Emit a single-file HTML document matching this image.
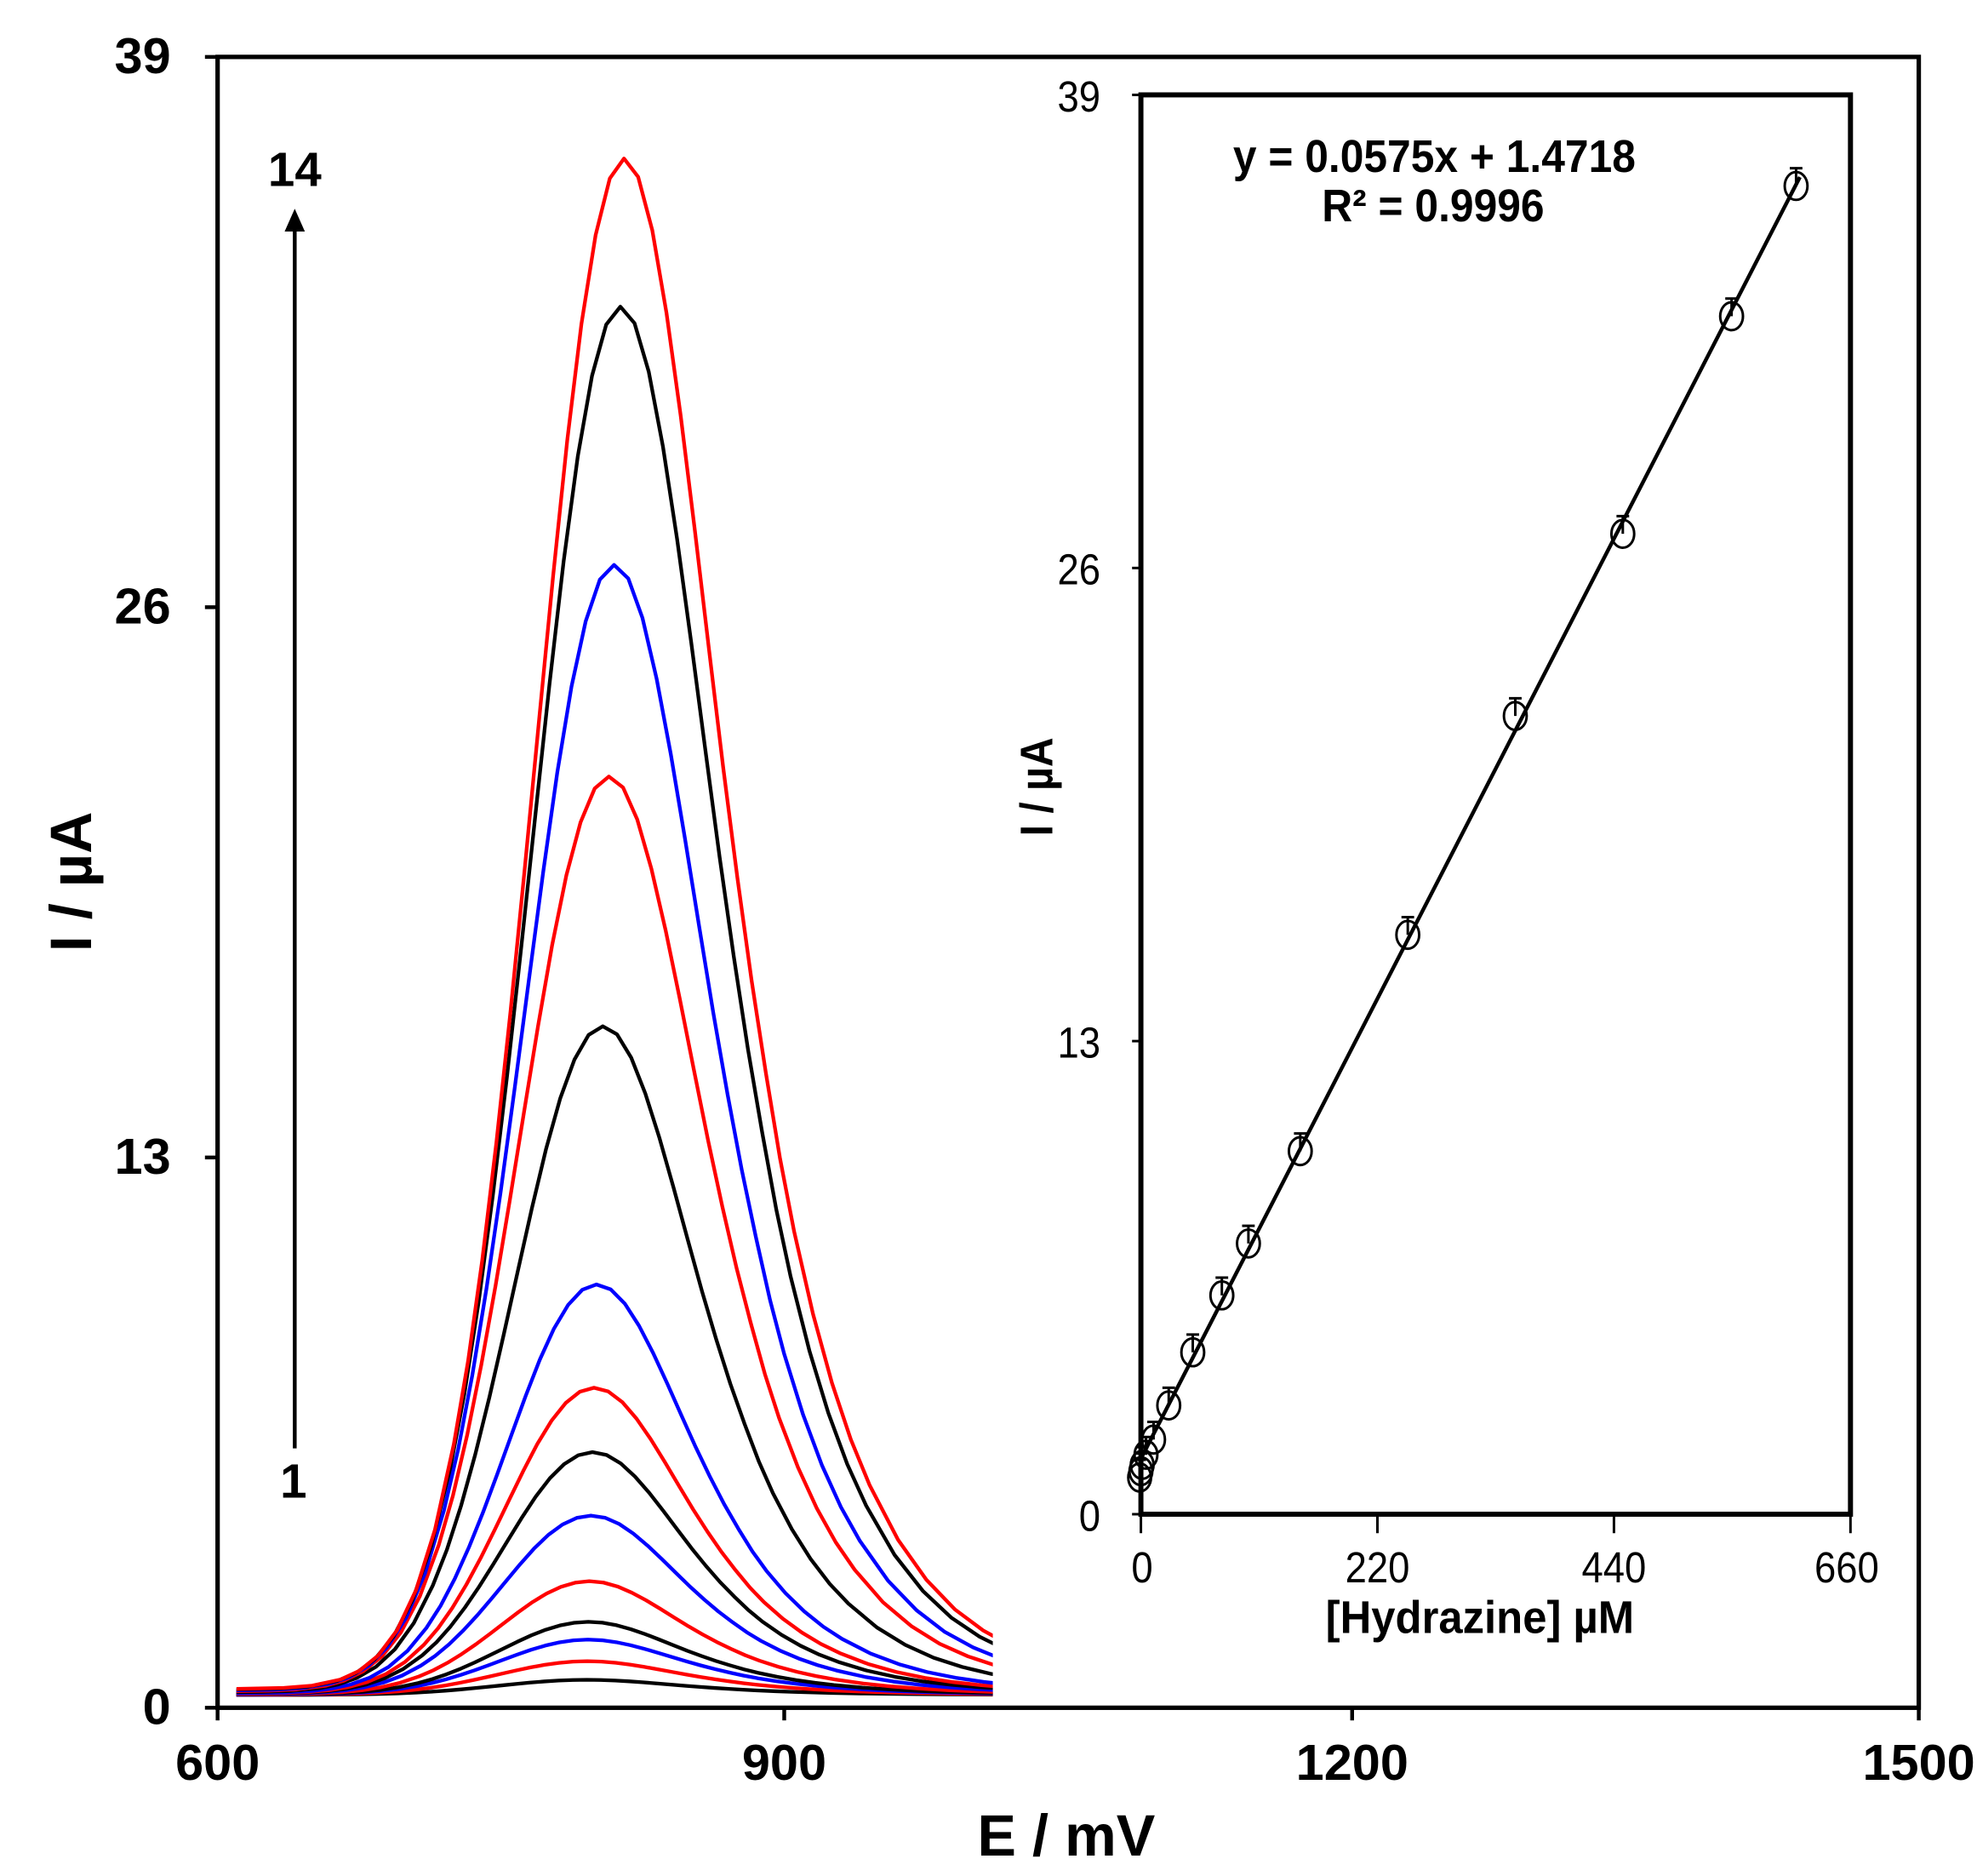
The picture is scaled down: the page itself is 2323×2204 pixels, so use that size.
<!DOCTYPE html>
<html><head><meta charset="utf-8"><style>
html,body{margin:0;padding:0;background:#fff;}
svg{display:block;}
text{font-family:"Liberation Sans",Arial,sans-serif;fill:#000;}
</style></head><body>
<svg width="2323" height="2204" viewBox="0 0 1563 1483" xmlns="http://www.w3.org/2000/svg" xmlns:xlink="http://www.w3.org/1999/xlink">
<defs>
<clipPath id="cp"><rect x="186.9" y="0" width="598" height="1400"/></clipPath>
<path id="pk" vector-effect="non-scaling-stroke" fill="none" stroke-width="4.3" stroke-linejoin="round" d="M-205,0 L-180,0.00065 L-165,0.0021 L-150,0.0061 L-140,0.0118 L-130,0.0218 L-120,0.0384 L-110,0.0646 L-100,0.104 L-90,0.160 L-82.5,0.214 L-75,0.280 L-67.5,0.357 L-60,0.443 L-52.5,0.536 L-45,0.632 L-37.5,0.727 L-30,0.816 L-22.5,0.892 L-15,0.950 L-7.5,0.987 L0,1 L7.5,0.988 L15,0.953 L22.5,0.899 L30,0.832 L37.5,0.757 L45,0.679 L52.5,0.602 L60,0.530 L67.5,0.463 L75,0.403 L82.5,0.347 L90,0.299 L100,0.245 L110,0.200 L120,0.163 L130,0.133 L145,0.0974 L160,0.0713 L175,0.052 L190,0.0382 L205,0.028 L220,0.0204"/>
</defs>
<g clip-path="url(#cp)">
<use xlink:href="#pk" href="#pk" stroke="#000" transform="translate(463.95,1339.87) scale(1.49444,-11.95)"/>
<use xlink:href="#pk" href="#pk" stroke="#f00" transform="translate(464.31,1339.81) scale(1.49444,-26.63)"/>
<use xlink:href="#pk" href="#pk" stroke="#00f" transform="translate(464.73,1339.75) scale(1.49444,-43.62)"/>
<use xlink:href="#pk" href="#pk" stroke="#000" transform="translate(465.07,1339.69) scale(1.49444,-57.62)"/>
<use xlink:href="#pk" href="#pk" stroke="#f00" transform="translate(465.85,1339.56) scale(1.49444,-89.61)"/>
<use xlink:href="#pk" href="#pk" stroke="#00f" transform="translate(467.12,1339.36) scale(1.49444,-141.27)"/>
<use xlink:href="#pk" href="#pk" stroke="#000" transform="translate(468.35,1339.16) scale(1.49444,-191.27)"/>
<use xlink:href="#pk" href="#pk" stroke="#f00" transform="translate(469.59,1338.96) scale(1.49444,-241.93)"/>
<use xlink:href="#pk" href="#pk" stroke="#00f" transform="translate(471.57,1338.62) scale(1.49444,-323.24)"/>
<use xlink:href="#pk" href="#pk" stroke="#000" transform="translate(476.56,1337.82) scale(1.49444,-526.55)"/>
<use xlink:href="#pk" href="#pk" stroke="#f00" transform="translate(481.38,1337.02) scale(1.49444,-723.17)"/>
<use xlink:href="#pk" href="#pk" stroke="#00f" transform="translate(485.46,1336.35) scale(1.49444,-889.81)"/>
<use xlink:href="#pk" href="#pk" stroke="#000" transform="translate(490.45,1335.54) scale(1.49444,-1093.13)"/>
<use xlink:href="#pk" href="#pk" stroke="#f00" transform="translate(493.30,1335.08) scale(1.49444,-1209.77)"/>
</g>
<!-- main frame -->
<rect x="172" y="45" width="1345" height="1305" fill="none" stroke="#000" stroke-width="3.5"/>
<g stroke="#000" stroke-width="3">
<line x1="162" y1="45" x2="172" y2="45"/><line x1="162" y1="480" x2="172" y2="480"/>
<line x1="162" y1="915" x2="172" y2="915"/><line x1="162" y1="1350" x2="172" y2="1350"/>
<line x1="172" y1="1350" x2="172" y2="1360"/><line x1="620" y1="1350" x2="620" y2="1360"/>
<line x1="1069" y1="1350" x2="1069" y2="1360"/><line x1="1517" y1="1350" x2="1517" y2="1360"/>
</g>
<g font-size="40" font-weight="bold" text-anchor="end">
<text x="135" y="58">39</text><text x="135" y="493">26</text>
<text x="135" y="928">13</text><text x="135" y="1363">0</text>
</g>
<g font-size="40" font-weight="bold" text-anchor="middle">
<text x="172" y="1407">600</text><text x="620" y="1407">900</text>
<text x="1069" y="1407">1200</text><text x="1517" y="1407">1500</text>
</g>
<text x="843" y="1467" font-size="46" font-weight="bold" text-anchor="middle">E / mV</text>
<text transform="translate(72,697) rotate(-90)" font-size="46" font-weight="bold" text-anchor="middle">I / µA</text>
<!-- arrow -->
<line x1="233" y1="1145" x2="233" y2="180" stroke="#000" stroke-width="3"/>
<polygon points="233,165 225,183 241,183" fill="#000"/>
<text x="233" y="147" font-size="38" font-weight="bold" text-anchor="middle">14</text>
<text x="232" y="1184" font-size="38" font-weight="bold" text-anchor="middle">1</text>
<!-- inset -->
<rect x="902" y="75" width="561" height="1122" fill="#fff" stroke="#000" stroke-width="4"/>
<g stroke="#000" stroke-width="2">
<line x1="895" y1="75" x2="902" y2="75"/><line x1="895" y1="449" x2="902" y2="449"/>
<line x1="895" y1="823" x2="902" y2="823"/><line x1="895" y1="1197" x2="902" y2="1197"/>
<line x1="902" y1="1197" x2="902" y2="1212"/><line x1="1089" y1="1197" x2="1089" y2="1212"/>
<line x1="1276" y1="1197" x2="1276" y2="1212"/><line x1="1463" y1="1197" x2="1463" y2="1212"/>
</g>
<g font-size="34" text-anchor="end">
<text transform="translate(870,88) scale(0.9,1)">39</text>
<text transform="translate(870,462) scale(0.9,1)">26</text>
<text transform="translate(870,836) scale(0.9,1)">13</text>
<text transform="translate(870,1210) scale(0.9,1)">0</text>
</g>
<g font-size="34" text-anchor="middle">
<text transform="translate(903,1251) scale(0.9,1)">0</text>
<text transform="translate(1089,1251) scale(0.9,1)">220</text>
<text transform="translate(1276,1251) scale(0.9,1)">440</text>
<text transform="translate(1460,1251) scale(0.9,1)">660</text>
<text transform="translate(1170,1291) scale(0.95,1)" font-size="36" font-weight="bold">[Hydrazine] µM</text>
<text transform="translate(1134,136) scale(0.93,1)" font-size="36" font-weight="bold">y = 0.0575x + 1.4718</text>
<text transform="translate(1133,175) scale(0.93,1)" font-size="36" font-weight="bold">R² = 0.9996</text>
</g>
<text transform="translate(832,622) rotate(-90) scale(0.9,1)" font-size="36" font-weight="bold" text-anchor="middle">I / µA</text>
<line x1="901" y1="1155" x2="1423" y2="140" stroke="#000" stroke-width="3"/>
<g fill="none" stroke="#000" stroke-width="2">
<ellipse cx="1420" cy="147" rx="9" ry="11"/><path d="M1420,147V133M1415,133H1425"/>
<ellipse cx="1369" cy="250" rx="9" ry="11"/><path d="M1369,250V236M1364,236H1374"/>
<ellipse cx="1283" cy="422" rx="9" ry="11"/><path d="M1283,422V408M1278,408H1288"/>
<ellipse cx="1198" cy="566" rx="9" ry="11"/><path d="M1198,566V552M1193,552H1203"/>
<ellipse cx="1113" cy="739" rx="9" ry="11"/><path d="M1113,739V725M1108,725H1118"/>
<ellipse cx="1028" cy="910" rx="9" ry="11"/><path d="M1028,910V896M1023,896H1033"/>
<ellipse cx="987" cy="983" rx="9" ry="11"/><path d="M987,983V969M982,969H992"/>
<ellipse cx="966" cy="1024" rx="9" ry="11"/><path d="M966,1024V1010M961,1010H971"/>
<ellipse cx="943" cy="1069" rx="9" ry="11"/><path d="M943,1069V1055M938,1055H948"/>
<ellipse cx="924" cy="1111" rx="9" ry="11"/><path d="M924,1111V1097M919,1097H929"/>
<ellipse cx="912" cy="1138" rx="9" ry="11"/><path d="M912,1138V1124M907,1124H917"/>
<ellipse cx="906" cy="1150" rx="9" ry="11"/><path d="M906,1150V1136M901,1136H911"/>
<ellipse cx="903" cy="1158" rx="9" ry="11"/><path d="M903,1158V1144M898,1144H908"/>
<ellipse cx="902" cy="1163" rx="9" ry="11"/><path d="M902,1163V1149M897,1149H907"/>
<ellipse cx="901" cy="1168" rx="9" ry="11"/><path d="M901,1168V1154M896,1154H906"/>
</g>
</svg>
</body></html>
